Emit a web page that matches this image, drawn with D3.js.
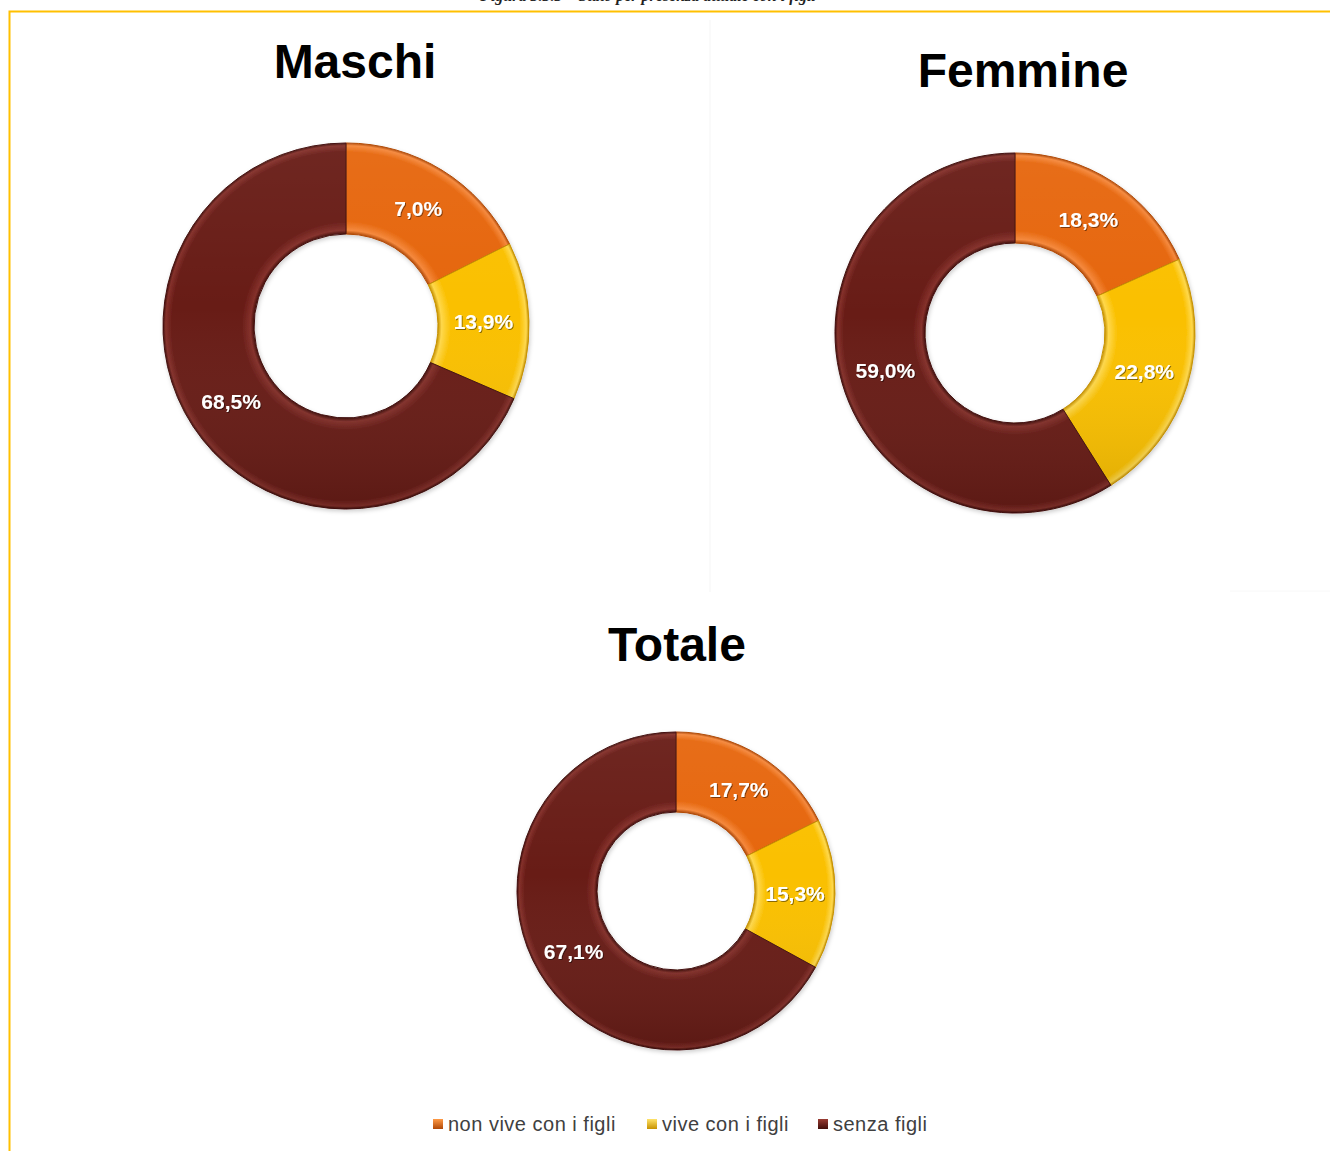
<!DOCTYPE html>
<html>
<head>
<meta charset="utf-8">
<script src="https://cdn.jsdelivr.net/npm/d3@7"></script>
<style>
  body { margin: 0; background: #fff; }
  svg { display: block; }
</style>
</head>
<body>
<svg id="chart"></svg>
<script>
// categories and colours
var categories = ["non vive con i figli", "vive con i figli", "senza figli"];
var colors = ["#E6660C", "#FAC000", "#671B16"];
var bevelColors = ["#F5873A", "#FFD84A", "#84302A"];
var lightColors = ["#FF9A45", "#FFE36A", "#9A3C33"];
var darkColors = ["#B04806", "#C79200", "#420E0A"];

var maschiValues = [17.6, 13.9, 68.5];
var maschiLabels = ["7,0%", "13,9%", "68,5%"];
var femmineValues = [18.3, 22.8, 59.0];
var femmineLabels = ["18,3%", "22,8%", "59,0%"];
var totaleValues = [17.7, 15.3, 67.1];
var totaleLabels = ["17,7%", "15,3%", "67,1%"];

var W = 1330, H = 1151;
var svg = d3.select("#chart").attr("width", W).attr("height", H);
var defs = svg.append("defs");

// caption cut off by the top of the page
svg.append("text")
    .attr("x", 648).attr("y", 1)
    .attr("text-anchor", "middle")
    .style("font-family", "'Liberation Serif', serif")
    .style("font-weight", "bold").style("font-style", "italic")
    .style("font-size", "16px").attr("fill", "#222")
    .text("Figura 3.3.3 – Stato per presenza attuale con i figli");

// gold frame
svg.append("rect")
    .attr("x", 9.5).attr("y", 11.5).attr("width", W + 20).attr("height", H + 20)
    .attr("fill", "none").attr("stroke", "#FFC000").attr("stroke-width", 2);

// very faint panel borders
svg.append("line").attr("x1", 710).attr("x2", 710).attr("y1", 20).attr("y2", 592)
    .attr("stroke", "#f8f8f8").attr("stroke-width", 1.5);
svg.append("line").attr("x1", 1230).attr("x2", 1330).attr("y1", 591).attr("y2", 591)
    .attr("stroke", "#f8f8f8");

var shadow = defs.append("filter").attr("id", "shadow")
    .attr("x", "-20%").attr("y", "-20%").attr("width", "140%").attr("height", "140%");
shadow.append("feDropShadow").attr("dx", 1).attr("dy", 2).attr("stdDeviation", 2)
    .attr("flood-color", "#000").attr("flood-opacity", 0.2);

var txtShadow = defs.append("filter").attr("id", "txtshadow");
txtShadow.append("feDropShadow").attr("dx", 1).attr("dy", 1).attr("stdDeviation", 0.6)
    .attr("flood-color", "#000").attr("flood-opacity", 0.45);

function drawDonut(id, title, values, labels, cx, cy, rOut, rIn, titleX, titleY) {
    svg.append("text")
        .attr("x", titleX).attr("y", titleY)
        .attr("text-anchor", "middle")
        .style("font-family", "'Liberation Sans', Arial, sans-serif")
        .style("font-weight", "bold").style("font-size", "48px")
        .attr("fill", "#000")
        .text(title);

    // bevel gradients, one per category (centre of the translated group)
    categories.forEach(function (c, i) {
        var g = defs.append("radialGradient").attr("id", id + "-g" + i)
            .attr("gradientUnits", "userSpaceOnUse")
            .attr("cx", 0).attr("cy", 0).attr("r", rOut);
        var k = rIn / rOut;
        g.append("stop").attr("offset", k).attr("stop-color", darkColors[i]);
        g.append("stop").attr("offset", k + 0.02).attr("stop-color", bevelColors[i]);
        g.append("stop").attr("offset", k + 0.07).attr("stop-color", colors[i]);
        g.append("stop").attr("offset", 0.95).attr("stop-color", colors[i]);
        g.append("stop").attr("offset", 0.985).attr("stop-color", bevelColors[i]);
        g.append("stop").attr("offset", 1).attr("stop-color", darkColors[i]);
    });

    var pie = d3.pie().sort(null).value(function (d) { return d; });
    var arc = d3.arc().innerRadius(rIn).outerRadius(rOut);
    var arcs = pie(values);

    var g = svg.append("g").attr("transform", "translate(" + cx + "," + cy + ")");
    g.append("g").attr("filter", "url(#shadow)")
        .selectAll("path").data(arcs).enter().append("path")
        .attr("d", arc)
        .attr("fill", function (d, i) { return "url(#" + id + "-g" + i + ")"; })
        .attr("stroke", function (d, i) { return darkColors[i]; })
        .attr("stroke-width", 1);

    // soft lighting, brighter at the top
    var lg = defs.append("linearGradient").attr("id", id + "-lt")
        .attr("x1", 0).attr("y1", 0).attr("x2", 0).attr("y2", 1);
    lg.append("stop").attr("offset", 0).attr("stop-color", "#fff").attr("stop-opacity", 0.05);
    lg.append("stop").attr("offset", 0.45).attr("stop-color", "#fff").attr("stop-opacity", 0);
    lg.append("stop").attr("offset", 1).attr("stop-color", "#000").attr("stop-opacity", 0.12);
    g.append("path")
        .attr("d", d3.arc().innerRadius(rIn).outerRadius(rOut).startAngle(0).endAngle(2 * Math.PI)())
        .attr("fill", "url(#" + id + "-lt)")
        .attr("pointer-events", "none");

    g.selectAll("text.lbl").data(arcs).enter().append("text")
        .attr("class", "lbl")
        .attr("transform", function (d) { return "translate(" + arc.centroid(d) + ")"; })
        .attr("text-anchor", "middle").attr("dy", "0.35em")
        .attr("filter", "url(#txtshadow)")
        .style("font-family", "'Liberation Sans', Arial, sans-serif")
        .style("font-weight", "bold").style("font-size", "21px")
        .attr("fill", "#fff")
        .text(function (d, i) { return labels[i]; });
}

drawDonut("m", "Maschi", maschiValues, maschiLabels, 346, 326, 183, 92, 355, 78);
drawDonut("f", "Femmine", femmineValues, femmineLabels, 1015, 333, 180, 90, 1023, 87);
drawDonut("t", "Totale", totaleValues, totaleLabels, 676, 891, 159, 79, 677, 661);

// legend
var legendX = [433, 647, 818];
var legend = svg.append("g");
categories.forEach(function (c, i) {
    var sq = defs.append("linearGradient").attr("id", "lg" + i)
        .attr("x1", 0).attr("y1", 0).attr("x2", 0).attr("y2", 1);
    sq.append("stop").attr("offset", 0).attr("stop-color", lightColors[i]);
    sq.append("stop").attr("offset", 1).attr("stop-color", darkColors[i]);
    legend.append("rect")
        .attr("x", legendX[i]).attr("y", 1119).attr("width", 10).attr("height", 10)
        .attr("fill", "url(#lg" + i + ")");
    legend.append("text")
        .attr("x", legendX[i] + 15).attr("y", 1131)
        .style("font-family", "'Liberation Sans', Arial, sans-serif")
        .style("font-size", "20px").style("letter-spacing", "0.5px")
        .attr("fill", "#404040")
        .text(c);
});
</script>
</body>
</html>
